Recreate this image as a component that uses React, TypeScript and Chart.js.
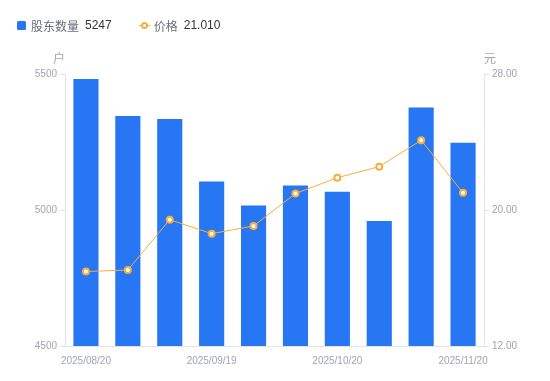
import React, { useEffect, useRef } from "react";
import { Chart, registerables } from "chart.js";

Chart.register(...registerables);

const categories = [
  "2025/08/20", "2025/08/29", "2025/09/10", "2025/09/19", "2025/09/30",
  "2025/10/10", "2025/10/20", "2025/10/31", "2025/11/10", "2025/11/20",
];
const holders = [5482, 5346, 5335, 5105, 5017, 5090, 5067, 4960, 5377, 5247];
const prices = [16.38, 16.47, 19.43, 18.61, 19.06, 20.97, 21.9, 22.55, 24.1, 21.01];
const leftTicks = [4500, 5000, 5500];
const rightTicks = [12, 20, 28];

const BAR = "#2777F5";
const LINE = "#F7AE3B";
const TICK = "#a1a4b3";
const AXIS = "#e3e4e8";
const FONT = "'Liberation Sans', Arial, 'Noto Sans CJK SC', sans-serif";

const unitPlugin = {
  id: "unitTitles",
  afterDraw(chart: any) {
    const ctx = chart.ctx;
    const l = chart.scales.y;
    const r = chart.scales.y1;
    ctx.save();
    ctx.fillStyle = TICK;
    ctx.font = "12px 'Noto Sans CJK SC', sans-serif";
    ctx.textBaseline = "middle";
    ctx.textAlign = "center";
    ctx.fillText("户", l.right - 6, chart.chartArea.top - 16);
    ctx.fillText("元", r.left + 6, chart.chartArea.top - 16);
    ctx.restore();
  },
};

export default function App() {
  const ref = useRef<HTMLCanvasElement>(null);
  useEffect(() => {
    document.body.style.margin = "0";
    const chart = new Chart(ref.current!, {
      type: "bar",
      data: {
        labels: categories,
        datasets: [
          {
            type: "line",
            label: "价格",
            data: prices,
            yAxisID: "y1",
            borderColor: LINE,
            borderWidth: 1,
            pointRadius: 3,
            pointBorderWidth: 2,
            pointBackgroundColor: "#ffffff",
            pointBorderColor: LINE,
            tension: 0,
            order: 0,
          } as any,
          {
            type: "bar",
            label: "股东数量",
            data: holders,
            yAxisID: "y",
            backgroundColor: BAR,
            barPercentage: 0.6,
            categoryPercentage: 1,
            order: 1,
          },
        ],
      },
      options: {
        animation: false,
        responsive: false,
        layout: { padding: { top: 74, left: 0, right: 0, bottom: 0 } },
        plugins: { legend: { display: false }, tooltip: { enabled: false } },
        scales: {
          x: {
            offset: true,
            grid: { display: false },
            border: { display: true, color: AXIS },
            afterFit: (s: any) => { s.height = 35; },
            ticks: {
              autoSkip: false,
              maxRotation: 0,
              color: TICK,
              font: { size: 10, family: FONT },
              padding: 1,
              callback: (_v: any, i: number) => (i % 3 === 0 ? categories[i] : ""),
            },
          },
          y: {
            position: "left",
            min: 4500,
            max: 5500,
            afterFit: (s: any) => { s.width = 65; },
            afterBuildTicks: (s: any) => { s.ticks = leftTicks.map((v) => ({ value: v })); },
            grid: { drawOnChartArea: false, drawTicks: true, tickLength: 5, color: AXIS },
            border: { display: true, color: AXIS },
            ticks: {
              color: TICK,
              font: { size: 10, family: FONT },
              padding: 3,
              callback: (v: any) => String(v),
            },
          },
          y1: {
            position: "right",
            min: 12,
            max: 28,
            afterFit: (s: any) => { s.width = 66; },
            afterBuildTicks: (s: any) => { s.ticks = rightTicks.map((v) => ({ value: v })); },
            grid: { drawOnChartArea: false, drawTicks: true, tickLength: 5, color: AXIS },
            border: { display: true, color: AXIS },
            ticks: {
              color: TICK,
              font: { size: 10, family: FONT },
              padding: 3,
              callback: (v: any) => Number(v).toFixed(2),
            },
          },
        },
      },
      plugins: [unitPlugin],
    });
    return () => chart.destroy();
  }, []);

  const legendText: React.CSSProperties = {
    fontFamily: "'Noto Sans CJK SC', 'Liberation Sans', sans-serif",
    fontSize: 12,
    color: "#6b6e7a",
  };
  const valText: React.CSSProperties = {
    fontFamily: "'Liberation Sans', Arial, sans-serif",
    fontSize: 12,
    color: "#333333",
    marginLeft: 6,
  };

  return (
    <div style={{ position: "relative", width: 550, height: 381 }}>
      <canvas ref={ref} width={550} height={381} style={{ display: "block" }} />
      <div
        style={{
          position: "absolute",
          left: 17,
          top: 17,
          height: 16,
          display: "flex",
          alignItems: "center",
        }}
      >
        <span style={{ width: 9, height: 9, background: BAR, borderRadius: 1.5, display: "inline-block", marginRight: 5 }} />
        <span style={legendText}>股东数量</span>
        <span style={valText}>{holders[holders.length - 1]}</span>
        <span style={{ position: "relative", width: 11, height: 9, display: "inline-block", marginLeft: 27, marginRight: 4 }}>
          <span style={{ position: "absolute", left: 0, right: 0, top: 4, height: 1, background: LINE }} />
          <span style={{ position: "absolute", left: 2.5, top: 1.5, width: 3, height: 3, border: `2px solid ${LINE}`, borderRadius: "50%", background: "#fff" }} />
        </span>
        <span style={legendText}>价格</span>
        <span style={valText}>{prices[prices.length - 1].toFixed(3)}</span>
      </div>
    </div>
  );
}
